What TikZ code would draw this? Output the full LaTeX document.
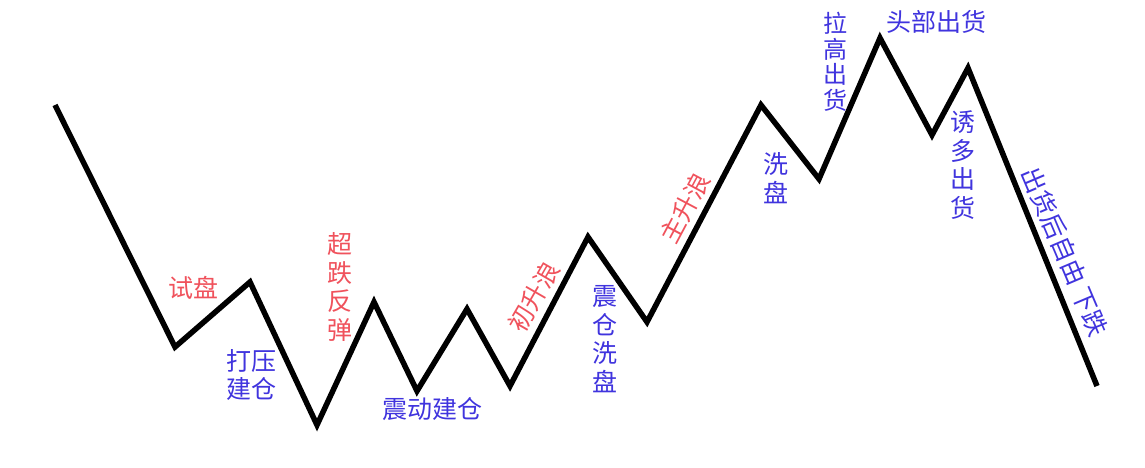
\documentclass[tikz,border=0pt]{standalone}
\usepackage{fontspec}
\newfontfamily\cjk{Noto Sans CJK SC}
\definecolor{lblred}{RGB}{240,82,92}
\definecolor{lblblue}{RGB}{64,52,222}
\tikzset{
  wave/.style={line width=5.5pt, line join=miter, black},
  lbl/.style={font=\cjk\fontsize{25}{28.5}\selectfont, inner sep=0pt, align=center},
  redlbl/.style={lbl, text=lblred},
  bluelbl/.style={lbl, text=lblblue},
}
\begin{document}
\begin{tikzpicture}[x=1pt,y=-1pt]
\fill[white] (0,0) rectangle (1145,468);
\useasboundingbox (0,0) rectangle (1145,468);
\coordinate (p1) at (55,105);
\coordinate (p2) at (175,347);
\coordinate (p3) at (250,282);
\coordinate (p4) at (317,425);
\coordinate (p5) at (374,302);
\coordinate (p6) at (417,391);
\coordinate (p7) at (467,309);
\coordinate (p8) at (510,386);
\coordinate (p9) at (588,237);
\coordinate (p10) at (647,322);
\coordinate (p11) at (761,105);
\coordinate (p12) at (819,179);
\coordinate (p13) at (880,38);
\coordinate (p14) at (932,135);
\coordinate (p15) at (968,68);
\coordinate (p16) at (1097,386);
\draw[wave] (p1) -- (p2) -- (p3) -- (p4) -- (p5) -- (p6) -- (p7) -- (p8) -- (p9) -- (p10) -- (p11) -- (p12) -- (p13) -- (p14) -- (p15) -- (p16);

\node[redlbl] (l1) at (193,288) {试盘};
\node[bluelbl] (l2) at (251,375) {打压\\建仓};
\node[redlbl] (l3) at (340,287) {超\\跌\\反\\弹};
\node[bluelbl] (l4) at (432,409) {震动建仓};
\node[redlbl, rotate=60] (l5) at (534,297) {初升浪};
\node[bluelbl] (l6) at (605,339) {震\\仓\\洗\\盘};
\node[redlbl, rotate=62] (l7) at (685,208) {主升浪};
\node[bluelbl] (l8) at (776,178) {洗\\盘};
\node[bluelbl, font=\cjk\fontsize{24}{25.5}\selectfont] (l9) at (835,62) {拉\\高\\出\\货};
\node[bluelbl] (l10) at (936,22) {头部出货};
\node[bluelbl] (l11) at (963,165) {诱\\多\\出\\货};
\node[bluelbl, rotate=-67] (l12) at (1065,252) {出货后自由 下跌};
\end{tikzpicture}
\end{document}
